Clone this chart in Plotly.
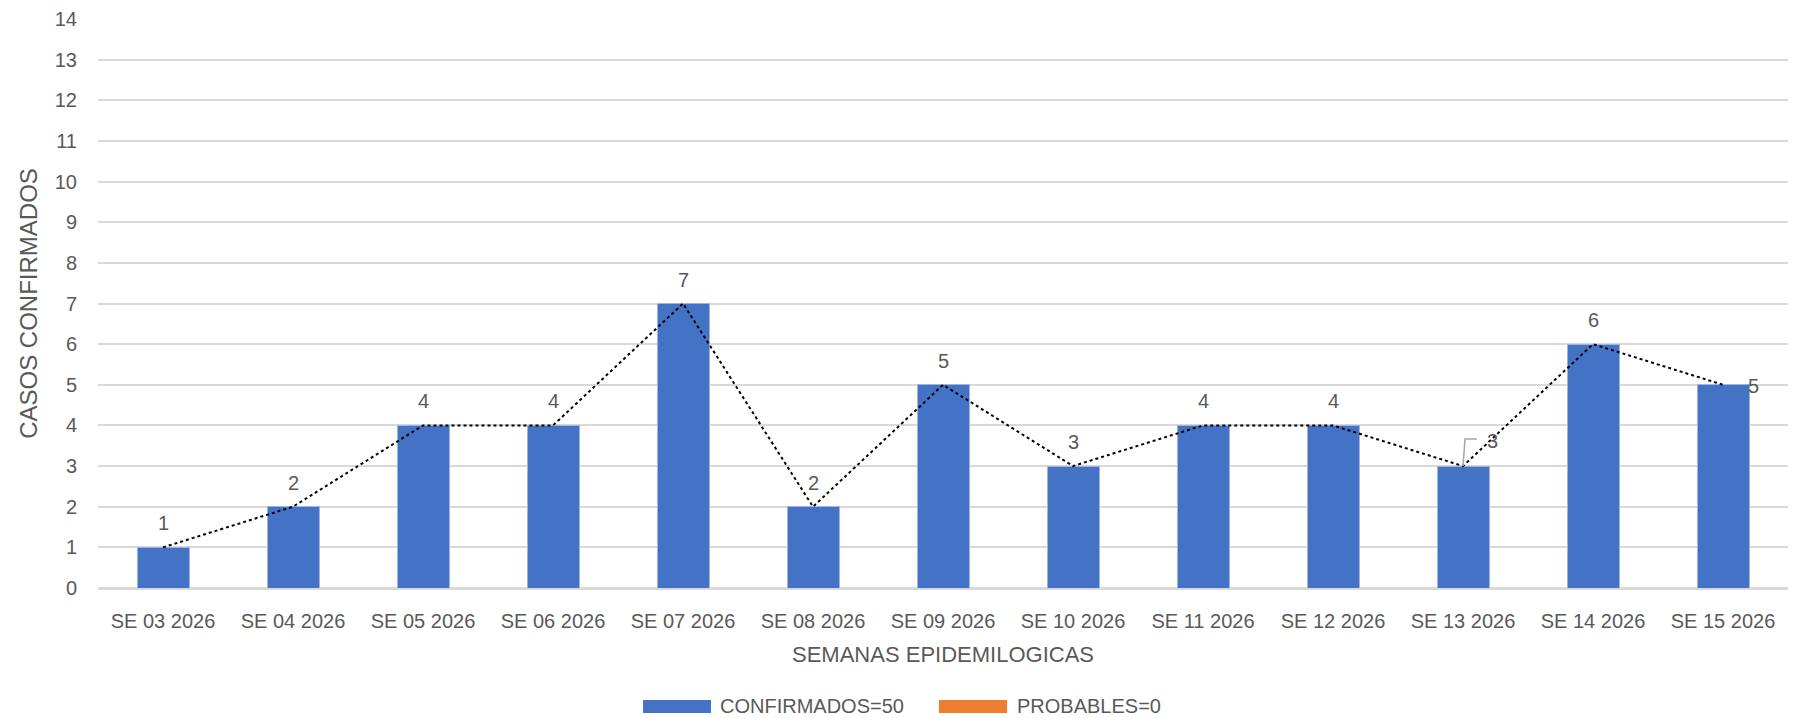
import plotly.graph_objects as go

categories = ["SE 03 2026", "SE 04 2026", "SE 05 2026", "SE 06 2026", "SE 07 2026",
              "SE 08 2026", "SE 09 2026", "SE 10 2026", "SE 11 2026", "SE 12 2026",
              "SE 13 2026", "SE 14 2026", "SE 15 2026"]
confirmados = [1, 2, 4, 4, 7, 2, 5, 3, 4, 4, 3, 6, 5]
probables = [0] * 13
legend_labels = ["CONFIRMADOS=50", "PROBABLES=0"]
y_title = "CASOS CONFIRMADOS"
x_title = "SEMANAS EPIDEMILOGICAS"

BLUE = "#4472C4"
ORANGE = "#ED7D31"
GRAY = "#595959"
FONT = "Liberation Sans"

fig = go.Figure()
fig.add_trace(go.Bar(x=categories, y=confirmados, name=legend_labels[0],
                     marker=dict(color=BLUE, line=dict(color="#9DB5E3", width=1)),
                     width=0.4, showlegend=False))
fig.add_trace(go.Bar(x=categories, y=probables, name=legend_labels[1],
                     marker=dict(color=ORANGE, line=dict(width=0)),
                     width=0.4, showlegend=False))
fig.add_trace(go.Scatter(x=categories, y=confirmados, mode="lines",
                         line=dict(color="black", width=2, dash="dot"),
                         showlegend=False, hoverinfo="skip"))

annotations = []
for i, (c, v) in enumerate(zip(categories, confirmados)):
    if i == 10:
        annotations.append(dict(x=c, y=v, text=str(v), showarrow=False,
                                xanchor="center", yanchor="middle", xshift=29, yshift=25,
                                font=dict(family=FONT, size=20, color=GRAY)))
    elif i == len(categories) - 1:
        annotations.append(dict(x=c, y=v, text=str(v), showarrow=False,
                                xanchor="left", yanchor="middle", xshift=23, yshift=-1,
                                font=dict(family=FONT, size=20, color=GRAY)))
    else:
        annotations.append(dict(x=c, y=v, text=str(v), showarrow=False,
                                xanchor="center", yanchor="middle", yshift=24,
                                font=dict(family=FONT, size=20, color=GRAY)))

# custom legend (wide Excel-style swatches)
legend_items = [(legend_labels[0], BLUE, 0.3225, 0.3627, 0.3670),
                (legend_labels[1], ORANGE, 0.4976, 0.5379, 0.5425)]
shapes = []
for label, color, x0, x1, xt in legend_items:
    shapes.append(dict(type="rect", xref="paper", yref="paper", x0=x0, x1=x1,
                       y0=-0.2197, y1=-0.1968, fillcolor=color, line=dict(width=0)))
    annotations.append(dict(xref="paper", yref="paper", x=xt, y=-0.2080,
                            text=label, showarrow=False, xanchor="left", yanchor="middle",
                            font=dict(family=FONT, size=20, color=GRAY)))

# leader line for SE 13 label
shapes.append(dict(type="path", xref="x", yref="y", xsizemode="pixel", ysizemode="pixel",
                   xanchor=categories[10], yanchor=confirmados[10],
                   path="M 0 0 L 2 27 L 14 27", line=dict(color="#A6A6A6", width=1.5)))

fig.update_layout(
    width=1780, height=710,
    margin=dict(l=90, r=0, t=11, b=130),
    plot_bgcolor="white", paper_bgcolor="white",
    barmode="stack",
    font=dict(family=FONT, size=20, color=GRAY),
    annotations=annotations,
    shapes=shapes,
    xaxis=dict(title=dict(text=x_title, font=dict(size=22, color=GRAY), standoff=16),
               tickfont=dict(size=20, color=GRAY), showgrid=False, ticks="",
               showline=True, linecolor="#D9D9D9", linewidth=2, ticklabelstandoff=14),
    yaxis=dict(title=dict(text=y_title, font=dict(size=24, color=GRAY), standoff=10),
               range=[0, 14], dtick=1, tickfont=dict(size=20, color=GRAY),
               showgrid=True, gridcolor="#D9D9D9", gridwidth=2,
               zeroline=True, zerolinecolor="#D9D9D9", zerolinewidth=2,
               ticks="", ticklabelstandoff=20),
)

fig.write_html("out.html")
